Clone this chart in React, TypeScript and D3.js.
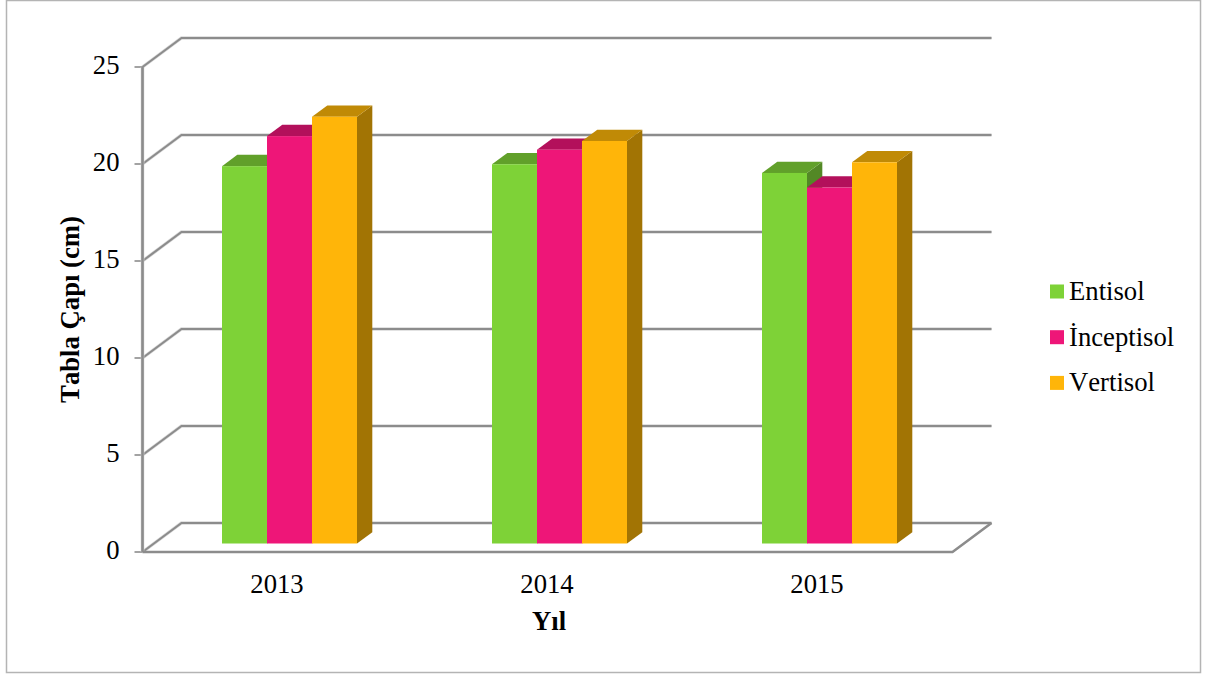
import React from "react";
import * as d3 from "d3";

const years = ["2013", "2014", "2015"];
const seriesNames = ["Entisol", "İnceptisol", "Vertisol"];
const entisol = [19.45, 19.55, 19.1];
const inceptisol = [21.0, 20.3, 18.35];
const vertisol = [22.0, 20.75, 19.65];
const yTicks = [0, 5, 10, 15, 20, 25];
const fronts = ["#7ed237", "#ee1678", "#ffb509"];
const tops = ["#61a02a", "#b3105b", "#c08a06"];
const sides = ["#538826", "#960c4b", "#a27404"];

const FONT = "'Liberation Serif', 'Times New Roman', serif";
const GRID = "#8c8c8c";
const FS = 26.7;
const noKern = { fontKerning: "none" as const };

export default function App() {
  const W = 1205, H = 677;
  const x0 = 142.5, x1 = 952.5;
  const y = d3.scaleLinear().domain([0, 25]).range([552, 67]);
  const x = d3.scaleBand<string>().domain(years).range([x0, x1]).paddingInner(0).paddingOuter(0);
  const wall = { dx: 39, dy: -29 };
  const barOff = { dx: 12, dy: -8.5 };
  const barDepth = { dx: 15.3, dy: -11.3 };
  const barW = x.bandwidth() / 6;
  const all = [entisol, inceptisol, vertisol];

  return (
    <svg width={W} height={H} style={{ position: "absolute", left: 0, top: 0, background: "#fff" }}>
      <rect x={6.5} y={0.5} width={1194} height={672} fill="#fff" stroke="#b4b4b4" strokeWidth={1.5} />
      {yTicks.map((t) => (
        <g key={t}>
          <path
            d={`M${x0},${y(t)}L${x0 + wall.dx},${y(t) + wall.dy}L${x1 + wall.dx},${y(t) + wall.dy}`}
            fill="none" stroke="#d9d9d9" strokeWidth={3.4} />
          <path
            d={`M${x0},${y(t)}L${x0 + wall.dx},${y(t) + wall.dy}L${x1 + wall.dx},${y(t) + wall.dy}`}
            fill="none" stroke={GRID} strokeWidth={2.1} />
          <line x1={x0 - 8} x2={x0} y1={y(t)} y2={y(t)} stroke={GRID} strokeWidth={1.6} />
          <text x={119.5} y={y(t) + 7} textAnchor="end" fontFamily={FONT} fontSize={FS} fill="#000" style={noKern}>{t}</text>
        </g>
      ))}
      <line x1={x0} x2={x0} y1={y(25)} y2={y(0)} stroke="#d9d9d9" strokeWidth={3.6} />
      <line x1={x0} x2={x0} y1={y(25)} y2={y(0)} stroke={GRID} strokeWidth={2.6} />
      <path d={`M${x0},${y(0)}L${x1},${y(0)}L${x1 + wall.dx},${y(0) + wall.dy}`} fill="none" stroke={GRID} strokeWidth={2.6} />
      {years.map((yr, i) => {
        const start = (x(yr) as number) + x.bandwidth() / 4 + barOff.dx;
        return (
          <g key={yr}>
            {all.map((vals, s) => {
              const bx = start + s * barW;
              const by0 = y(0) + barOff.dy;
              const top = y(vals[i]) + barOff.dy;
              const r = bx + barW;
              const { dx, dy } = barDepth;
              return (
                <g key={s}>
                  <polygon points={`${r},${top} ${r + dx},${top + dy} ${r + dx},${by0 + dy} ${r},${by0}`} fill={sides[s]} />
                  <polygon points={`${bx},${top} ${bx + dx},${top + dy} ${r + dx},${top + dy} ${r},${top}`} fill={tops[s]} />
                  <rect x={bx} y={top} width={barW} height={by0 - top} fill={fronts[s]} />
                </g>
              );
            })}
          </g>
        );
      })}
      {years.map((yr) => (
        <text key={yr} x={(x(yr) as number) + x.bandwidth() / 2 - 0.5} y={592.5} textAnchor="middle" fontFamily={FONT} fontSize={FS} fill="#000" style={noKern}>{yr}</text>
      ))}
      <text x={549} y={629.5} textAnchor="middle" fontFamily={FONT} fontSize={FS} fontWeight="bold" fill="#000" style={noKern}>Yıl</text>
      <text transform="translate(78.5,309.5) rotate(-90)" textAnchor="middle" fontFamily={FONT} fontSize={FS} fontWeight="bold" fill="#000" style={noKern}>Tabla Çapı (cm)</text>
      {seriesNames.map((n, i) => (
        <g key={n}>
          <rect x={1050} y={284.5 + i * 45.7} width={14} height={14} fill={fronts[i]} />
          <text x={1069} y={300 + i * 45.7} fontFamily={FONT} fontSize={FS} fill="#000" style={noKern}>{n}</text>
        </g>
      ))}
    </svg>
  );
}
